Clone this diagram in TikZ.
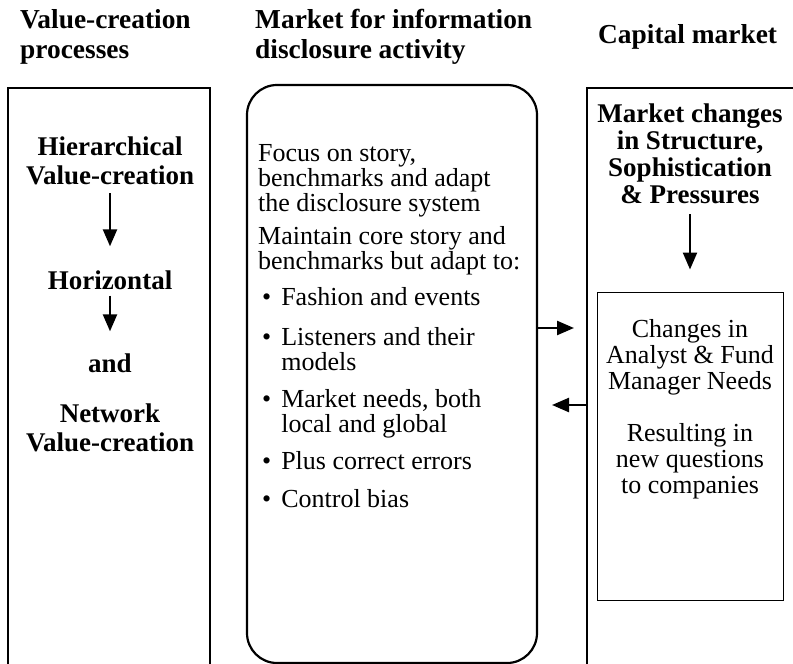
\documentclass[tikz,border=0pt]{standalone}
\usepackage{fontspec}
\setmainfont{Liberation Serif}
\usetikzlibrary{arrows.meta}
\begin{document}
\begin{tikzpicture}[x=1pt,y=-1pt,
  head/.style={font=\bfseries\fontsize{27.4}{30}\selectfont,align=left,inner sep=0pt},
  boldtxt/.style={font=\bfseries\fontsize{27}{29}\selectfont,align=center,inner sep=0pt},
  body/.style={font=\fontsize{26}{25}\selectfont,align=left,inner sep=0pt,anchor=west},
  bulitem/.style={font=\fontsize{26}{25}\selectfont,inner sep=0pt,anchor=base west},
  bodyc/.style={font=\fontsize{26}{26}\selectfont,align=center,inner sep=0pt},
  frame/.style={line width=2.2pt,line join=miter},
  arr/.style={line width=2.4pt,-{Triangle[length=17pt,width=14pt]}}
]
\newenvironment{bullist}{\begin{tabular}[t]{@{\hspace{4pt}}l@{\hspace{10pt}}l@{}}}{\end{tabular}}
\useasboundingbox (0,0) rectangle (793,664);
% headings
\node[head,anchor=west] (h1) at (20,37) {Value-creation\\processes};
\node[head,anchor=west] (h2) at (255,37) {Market for information\\disclosure activity};
\node[head,anchor=west] (h3) at (598,37) {Capital market};
% frames
\draw[frame] (8,664) -- (8,88) -- (210,88) -- (210,664);
\draw[frame,rounded corners=30pt] (247,85) rectangle (537,663);
\node[draw=none,inner sep=0pt,minimum width=290pt,minimum height=578pt] (mid) at (392,374) {};
\draw[frame] (587,664) -- (587,88) -- (800,88);
% left column
\node[boldtxt] (l1) at (110,161) {Hierarchical\\Value-creation};
\node[boldtxt] (l2) at (110,280) {Horizontal};
\node[boldtxt] (l3) at (110,363) {and};
\node[boldtxt] (l4) at (110,428) {Network\\Value-creation};
\draw[arr,shorten <=8pt,shorten >=24pt] (l1.south) -- (l2.north);
\draw[arr,shorten <=6pt,shorten >=22pt] (l2.south) -- (l3.north);
% middle column
\node[body] (m1) at (258,181) {Focus on story,\\benchmarks and adapt\\the disclosure system};
\node[body] (m2) at (258,251) {Maintain core story and\\benchmarks but adapt to:};
\node[bulitem] (b1) at (258,305) {\begin{bullist}\textbullet & Fashion and events\end{bullist}};
\node[bulitem] (b2) at (258,345) {\begin{bullist}\textbullet & Listeners and their\\ & models\end{bullist}};
\node[bulitem] (b3) at (258,407) {\begin{bullist}\textbullet & Market needs, both\\ & local and global\end{bullist}};
\node[bulitem] (b4) at (258,469) {\begin{bullist}\textbullet & Plus correct errors\end{bullist}};
\node[bulitem] (b5) at (258,507) {\begin{bullist}\textbullet & Control bias\end{bullist}};
% right column
\node[boldtxt,font=\bfseries\fontsize{27}{27}\selectfont] (r1) at (690,154) {Market changes\\in Structure,\\Sophistication\\\& Pressures};
\node[draw,line width=1pt,minimum width=186pt,minimum height=308pt,inner sep=0pt] (inner) at (690,446) {};
\node[bodyc] (r2) at (690,357) {Changes in\\Analyst \& Fund\\Manager Needs};
\node[bodyc] (r3) at (690,461) {Resulting in\\new questions\\to companies};
\draw[arr,shorten <=10pt,shorten >=22pt] (r1.south -| inner.north) -- (inner.north);
% connectors between columns
\coordinate (capL1) at (574,328);
\coordinate (capL2) at (587,405);
\draw[arr] (mid.east |- capL1) -- (capL1);
\draw[arr] (capL2) -- (552,405);
\end{tikzpicture}
\end{document}
